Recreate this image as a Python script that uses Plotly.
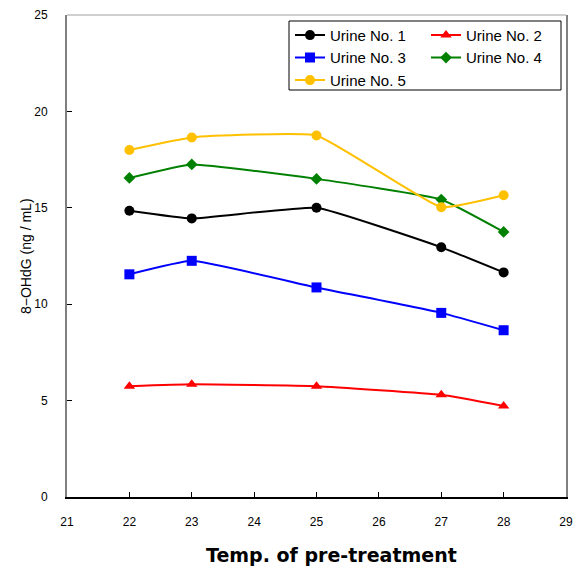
import plotly.graph_objects as go

temps = [22, 23, 25, 27, 28]
urine1 = [14.85, 14.45, 15.0, 12.95, 11.65]
urine2 = [5.75, 5.85, 5.75, 5.3, 4.72]
urine3 = [11.55, 12.25, 10.87, 9.55, 8.65]
urine4 = [16.55, 17.25, 16.5, 15.43, 13.75]
urine5 = [18.0, 18.65, 18.75, 15.03, 15.65]
names = ["Urine No. 1", "Urine No. 2", "Urine No. 3", "Urine No. 4", "Urine No. 5"]
series = [urine1, urine2, urine3, urine4, urine5]
colors = ["#000000", "#FF0000", "#0000FF", "#008000", "#FFC000"]
symbols = ["circle", "triangle-up", "square", "diamond", "circle"]
sizes = [10, 10, 10, 9, 10]
legend_cols = ["legend", "legend2", "legend", "legend2", "legend"]
x_ticks = list(range(21, 30))
y_ticks = [0, 5, 10, 15, 20, 25]

fig = go.Figure()
for name, vals, c, s, ms, lg in zip(names, series, colors, symbols, sizes, legend_cols):
    fig.add_trace(go.Scatter(
        x=temps, y=vals, name=name, mode="lines+markers", legend=lg,
        line=dict(color=c, width=2, shape="spline", smoothing=0.35),
        marker=dict(color=c, symbol=s, size=ms),
    ))

tickfont = dict(family="Liberation Sans, Arial", size=12, color="black")
legfont = dict(family="Liberation Sans, Arial", size=15, color="black")
# the page body adds an 8px offset, so the figure is 8px smaller and margins shifted
fig.update_layout(
    width=570, height=562,
    margin=dict(l=59, r=12, t=7, b=73),
    plot_bgcolor="white", paper_bgcolor="white",
    showlegend=True,
    legend=dict(
        x=(290 - 67) / 499, y=0.992, xanchor="left", yanchor="top",
        orientation="v", bgcolor="rgba(0,0,0,0)", borderwidth=0,
        font=legfont, traceorder="normal",
    ),
    legend2=dict(
        x=(426 - 67) / 499, y=0.992, xanchor="left", yanchor="top",
        orientation="v", bgcolor="rgba(0,0,0,0)", borderwidth=0,
        font=legfont, traceorder="normal",
    ),
    xaxis=dict(
        range=[21, 29], tickvals=x_ticks, ticktext=[str(v) for v in x_ticks],
        showgrid=False, zeroline=False, showline=True, linecolor="black", linewidth=1.5,
        ticks="inside", ticklen=5, tickcolor="black", tickfont=tickfont,
        ticklabelstandoff=13, automargin=False,
    ),
    yaxis=dict(
        range=[0, 25], tickvals=y_ticks, ticktext=[str(v) for v in y_ticks],
        showgrid=False, zeroline=False, showline=True, linecolor="#808080", linewidth=2,
        mirror=True,
        ticks="inside", ticklen=5, tickcolor="black", tickfont=tickfont,
        ticklabelstandoff=15, automargin=False,
    ),
    shapes=[
        dict(type="line", xref="paper", yref="paper", x0=0, x1=1, y0=1, y1=1,
             line=dict(color="#A0A0A0", width=1)),
        dict(type="rect", xref="paper", yref="paper",
             x0=(289 - 67) / 499, x1=(561 - 67) / 499,
             y0=1 - (90 - 15) / 482, y1=1 - (21 - 15) / 482,
             line=dict(color="black", width=1), fillcolor="rgba(0,0,0,0)", layer="below"),
    ],
    annotations=[
        dict(text="<b>Temp. of pre-treatment</b>", xref="paper", yref="paper",
             x=0.53, y=-0.12, xanchor="center", yanchor="middle", showarrow=False,
             font=dict(family="DejaVu Sans", size=19, color="black")),
        dict(text="8−OHdG (ng / mL)", xref="paper", yref="paper", textangle=-90,
             x=(26 - 67) / 499, y=0.5, xanchor="center", yanchor="middle", showarrow=False,
             font=dict(family="Liberation Sans, Arial", size=14, color="black")),
    ],
)

fig.write_html("out.html")
